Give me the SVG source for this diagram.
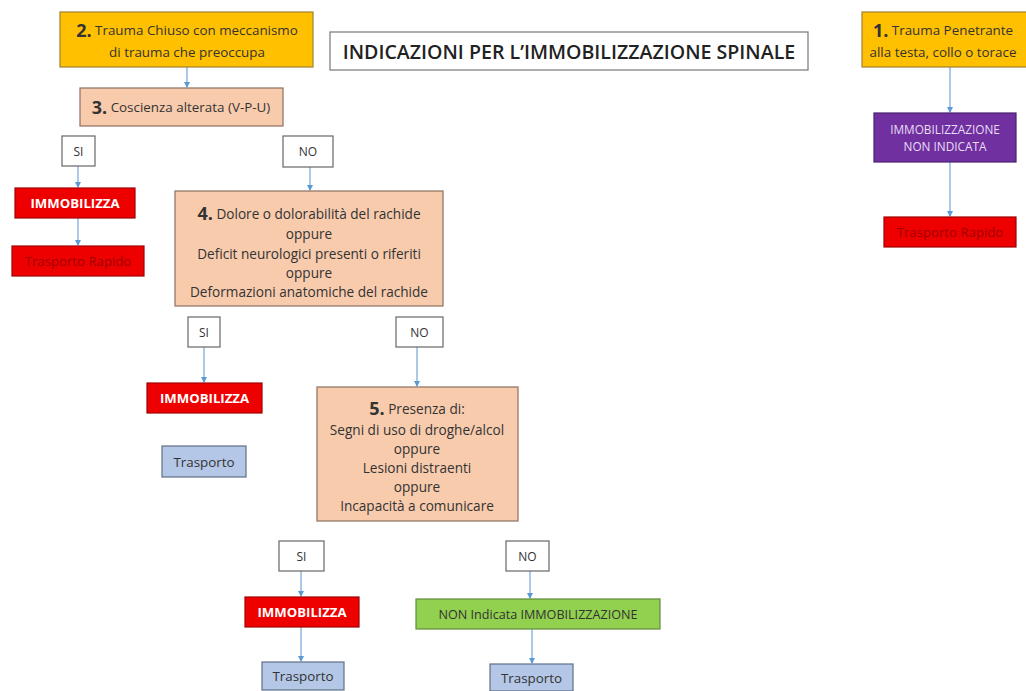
<svg xmlns="http://www.w3.org/2000/svg" width="1026" height="691" viewBox="0 0 1026 691">
<defs>
<marker id="ah" markerWidth="6" markerHeight="6" refX="5" refY="3" orient="auto" markerUnits="userSpaceOnUse">
<path d="M0,0 L6,3 L0,6 Z" fill="#5B9BD5"/>
</marker>
<style>
text{font-family:"Open Sans",Lato,"Liberation Sans",sans-serif;text-anchor:middle;dominant-baseline:central;fill:#333}
.conn line{stroke:#7FAEDC;stroke-width:1.3;marker-end:url(#ah)}
.orange{fill:#FFC000;stroke:#A08030;stroke-width:1.2}
.salmon{fill:#F8CBAD;stroke:#8A7060;stroke-width:1.2}
.lbl{fill:#fff;stroke:#666;stroke-width:1.2}
.red{fill:#EE0000;stroke:#A00000;stroke-width:1.2}
.blue{fill:#B4C7E7;stroke:#5F6F88;stroke-width:1.2}
.green{fill:#92D050;stroke:#5E8C3A;stroke-width:1.2}
.purple{fill:#7030A0;stroke:#4A2070;stroke-width:1.2}
.t{font-size:13.4px}
.s{font-size:12px}
.m4{font-size:13.6px}
.m5{font-size:13.6px}
.num{font-size:18px;font-weight:bold}
.wb{fill:#fff;font-weight:bold;font-size:13.2px}
.dr{fill:#A00000;font-size:13.2px}
</style>
</defs>
<rect width="1026" height="691" fill="#fff"/>
<g class="conn">
<line x1="187" y1="67" x2="187" y2="87"/>
<line x1="950" y1="67" x2="950" y2="112"/>
<line x1="950" y1="162" x2="950" y2="216"/>
<line x1="78" y1="166" x2="78" y2="187"/>
<line x1="78" y1="218" x2="78" y2="245"/>
<line x1="310" y1="167" x2="310" y2="190"/>
<line x1="204" y1="347" x2="204" y2="382"/>
<line x1="417" y1="347" x2="417" y2="386"/>
<line x1="301" y1="571" x2="301" y2="596"/>
<line x1="301" y1="627" x2="301" y2="661"/>
<line x1="530" y1="571" x2="530" y2="598"/>
<line x1="532" y1="629" x2="532" y2="663"/>
</g>
<g id="n2">
<rect class="orange" x="60" y="12" width="253" height="55"/>
<text x="187" y="30"><tspan class="num">2.</tspan><tspan class="t"> Trauma Chiuso con meccanismo</tspan></text>
<text class="t" x="187" y="52">di trauma che preoccupa</text>
</g>
<g id="title">
<rect x="330" y="32" width="478" height="38" fill="#fff" stroke="#777" stroke-width="1.2"/>
<text x="569" y="51" style="font-size:19.6px;font-weight:600;fill:#222">INDICAZIONI PER L’IMMOBILIZZAZIONE SPINALE</text>
</g>
<g id="n1">
<rect class="orange" x="862" y="12" width="170" height="55"/>
<text x="943" y="30"><tspan class="num">1.</tspan><tspan class="t"> Trauma Penetrante</tspan></text>
<text class="t" x="943" y="52">alla testa, collo o torace</text>
</g>
<g id="n1a">
<rect class="purple" x="874" y="113" width="142" height="49"/>
<text x="945" y="129" style="fill:#E8DDF5;font-size:11.8px">IMMOBILIZZAZIONE</text>
<text x="945" y="146" style="fill:#E8DDF5;font-size:11.8px">NON INDICATA</text>
</g>
<g id="n1b">
<rect class="red" x="884" y="217" width="132" height="30"/>
<text class="dr" x="950" y="232">Trasporto Rapido</text>
</g>
<g id="n3">
<rect class="salmon" x="80" y="88" width="203" height="38"/>
<text x="181" y="107"><tspan class="num">3.</tspan><tspan class="t"> Coscienza alterata (V-P-U)</tspan></text>
</g>
<g id="si1">
<rect class="lbl" x="62" y="136" width="33" height="30"/>
<text class="s" x="78.5" y="151">SI</text>
</g>
<g id="no1">
<rect class="lbl" x="283" y="136" width="50" height="31"/>
<text class="s" x="308" y="151.5">NO</text>
</g>
<g id="imm1">
<rect class="red" x="15" y="188" width="120" height="30"/>
<text class="wb" x="75" y="203">IMMOBILIZZA</text>
</g>
<g id="tr1">
<rect class="red" x="12" y="246" width="132" height="30"/>
<text class="dr" x="78" y="261">Trasporto Rapido</text>
</g>
<g id="n4">
<rect class="salmon" x="175" y="191" width="268" height="115"/>
<text x="309" y="213"><tspan class="num">4.</tspan><tspan class="m4"> Dolore o dolorabilità del rachide</tspan></text>
<text class="m4" x="309" y="233">oppure</text>
<text class="m4" x="309" y="253">Deficit neurologici presenti o riferiti</text>
<text class="m4" x="309" y="272">oppure</text>
<text class="m4" x="309" y="291">Deformazioni anatomiche del rachide</text>
</g>
<g id="si2">
<rect class="lbl" x="188" y="317" width="32" height="30"/>
<text class="s" x="204" y="332">SI</text>
</g>
<g id="no2">
<rect class="lbl" x="396" y="317" width="47" height="30"/>
<text class="s" x="419.5" y="332">NO</text>
</g>
<g id="imm2">
<rect class="red" x="147" y="383" width="115" height="30"/>
<text class="wb" x="204.5" y="398">IMMOBILIZZA</text>
</g>
<g id="tr2">
<rect class="blue" x="162" y="446" width="84" height="31"/>
<text class="t" x="204" y="461.5">Trasporto</text>
</g>
<g id="n5">
<rect class="salmon" x="317" y="387" width="201" height="134"/>
<text x="417" y="408"><tspan class="num">5.</tspan><tspan class="m5"> Presenza di:</tspan></text>
<text class="m5" x="417" y="429">Segni di uso di droghe/alcol</text>
<text class="m5" x="417" y="448">oppure</text>
<text class="m5" x="417" y="467">Lesioni distraenti</text>
<text class="m5" x="417" y="486">oppure</text>
<text class="m5" x="417" y="505">Incapacità a comunicare</text>
</g>
<g id="si3">
<rect class="lbl" x="279" y="541" width="45" height="30"/>
<text class="s" x="301.5" y="556">SI</text>
</g>
<g id="no3">
<rect class="lbl" x="506" y="541" width="43" height="30"/>
<text class="s" x="527.5" y="556">NO</text>
</g>
<g id="imm3">
<rect class="red" x="245" y="597" width="114" height="30"/>
<text class="wb" x="302" y="612">IMMOBILIZZA</text>
</g>
<g id="tr3">
<rect class="blue" x="262" y="662" width="82" height="28"/>
<text class="t" x="303" y="676">Trasporto</text>
</g>
<g id="nonind">
<rect class="green" x="416" y="599" width="244" height="30"/>
<text x="538" y="614" style="font-size:12.6px">NON Indicata IMMOBILIZZAZIONE</text>
</g>
<g id="tr4">
<rect class="blue" x="490" y="664" width="83" height="27"/>
<text class="t" x="531.5" y="678">Trasporto</text>
</g>
</svg>
